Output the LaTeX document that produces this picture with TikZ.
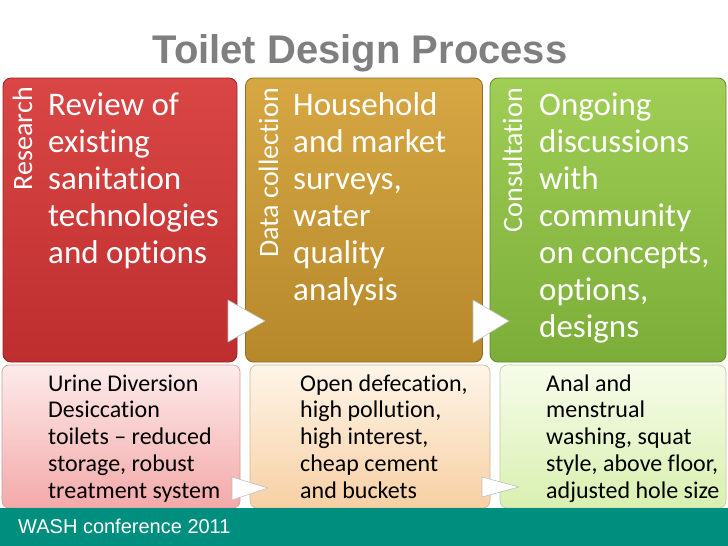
\documentclass[tikz,border=0pt]{standalone}
\usepackage{fontspec}
\setmainfont{Carlito}[Ligatures={NoCommon,NoContextual}]
\newfontfamily\arialfont{Liberation Sans}
\definecolor{redtop}{HTML}{DA4646}
\definecolor{redbot}{HTML}{BE2E2E}
\definecolor{goldtop}{HTML}{D6A743}
\definecolor{goldbot}{HTML}{B6882A}
\definecolor{greentop}{HTML}{A0CE55}
\definecolor{greenbot}{HTML}{7BAD38}
\definecolor{lredtop}{HTML}{FDEBEB}
\definecolor{lredbot}{HTML}{F4A9A9}
\definecolor{lgoldtop}{HTML}{FEF5E8}
\definecolor{lgoldbot}{HTML}{F7D0A4}
\definecolor{lgreentop}{HTML}{F7FCEA}
\definecolor{lgreenbot}{HTML}{D9F0B0}
\definecolor{teal}{HTML}{008E7E}
\definecolor{titlegray}{HTML}{7F7F7F}
\begin{document}
\begin{tikzpicture}[x=1pt,y=-1pt,
  bigbox/.style={rectangle,rounded corners=8pt,inner sep=0pt,line width=0.8pt},
  smallbox/.style={rectangle,rounded corners=7pt,inner sep=0pt,line width=0.6pt},
  vlabel/.style={rotate=90,anchor=base east,inner sep=0pt,text=white,font=\fontsize{28}{32}\selectfont},
  maintext/.style={anchor=base west,inner sep=0pt,align=left,text=white,font=\fontsize{33}{37}\selectfont},
  subtext/.style={anchor=base west,inner sep=0pt,align=left,text=black,font=\fontsize{24}{26.75}\selectfont},
  arrowtri/.style={fill=white,draw=black!25,line width=0.6pt,line join=round}]
\useasboundingbox (0,0) rectangle (728,546);
\fill[white] (0,0) rectangle (728,546);
% title
\node[anchor=base,inner sep=0pt,text=titlegray,font=\arialfont\bfseries\fontsize{40}{44}\selectfont] (title) at (360,63) {Toilet Design Process};
% top boxes
\node[bigbox,top color=redtop,bottom color=redbot,draw=redbot!80!black,minimum width=234pt,minimum height=284pt] (b1) at (120,220) {};
\node[bigbox,top color=goldtop,bottom color=goldbot,draw=goldbot!80!black,minimum width=237pt,minimum height=284pt] (b2) at (364,220) {};
\node[bigbox,top color=greentop,bottom color=greenbot,draw=greenbot!80!black,minimum width=236pt,minimum height=284pt] (b3) at (608,220) {};
% bottom boxes
\node[smallbox,top color=lredtop,bottom color=lredbot,draw=lredbot!70!gray,minimum width=238pt,minimum height=143pt] (s1) at (121,436.5) {};
\node[smallbox,top color=lgoldtop,bottom color=lgoldbot,draw=lgoldbot!70!gray,minimum width=240pt,minimum height=143pt] (s2) at (370,436.5) {};
\node[smallbox,top color=lgreentop,bottom color=lgreenbot,draw=lgreenbot!70!gray,minimum width=226pt,minimum height=143pt] (s3) at (613,436.5) {};
% footer
\fill[teal] (0,508) rectangle (728,546);
\node[anchor=base west,inner sep=0pt,text=white,font=\arialfont\fontsize{20}{24}\selectfont] (foot) at (18,533) {WASH conference 2011};
% arrows top
\draw[arrowtri] (228,300) -- (265,321) -- (228,342) -- cycle;
\draw[arrowtri] (473,300) -- (509,321) -- (473,343) -- cycle;
% arrows bottom
\draw[arrowtri] (232,477) -- (268,488) -- (232,500) -- cycle;
\draw[arrowtri] (482,477) -- (519,487) -- (482,497) -- cycle;
% vertical labels
\node[vlabel] (l1) at (32,87) {Research};
\node[vlabel] (l2) at (278,88) {Data collection};
\node[vlabel] (l3) at (522,88) {Consultation};
% main texts (anchored at the baseline of the last line)
\node[maintext] (t1) at (48,263) {Review of\\existing\\sanitation\\technologies\\and options};
\node[maintext] (t2) at (293,300) {Household\\and market\\surveys,\\water\\quality\\analysis};
\node[maintext] (t3) at (539,337) {Ongoing\\discussions\\with\\community\\on concepts,\\options,\\designs};
% sub texts
\node[subtext] (u1) at (48,498) {Urine Diversion\\Desiccation\\toilets -- reduced\\storage, robust\\treatment system};
\node[subtext] (u2) at (300,498) {Open defecation,\\high pollution,\\high interest,\\cheap cement\\and buckets};
\node[subtext] (u3) at (546,498) {Anal and\\menstrual\\washing, squat\\style, above floor,\\adjusted hole size};
\end{tikzpicture}
\end{document}
